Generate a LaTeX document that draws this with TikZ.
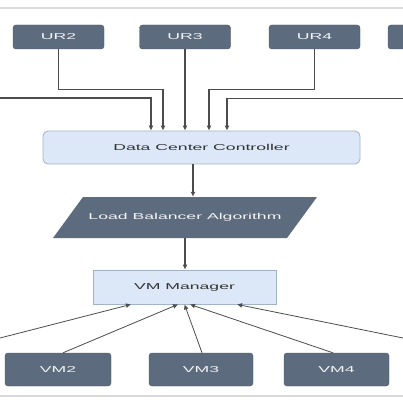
\documentclass[tikz,border=0pt]{standalone}
\usepackage{fontspec}
\setmainfont{Liberation Sans}[FakeStretch=2.05]
\usetikzlibrary{arrows.meta, positioning}

\definecolor{slate}{HTML}{5C6B7D}
\definecolor{slateedge}{HTML}{4A5766}
\definecolor{paleblue}{HTML}{DCE8F8}
\definecolor{paleedge}{HTML}{A3B3C7}
\definecolor{rulegray}{HTML}{D9D9D9}

\begin{document}
\begin{tikzpicture}[x=1pt, y=-1pt,
  font=\fontsize{8.6}{10}\selectfont,
  darkbox/.style={draw=slateedge, fill=slate, text=white!92!slate, rounded corners=3pt, inner sep=0pt},
  lightbox/.style={draw=paleedge, fill=paleblue, text=black!80, inner sep=0pt, line width=0.8pt},
  conn/.style={draw=black!70, line width=1.2pt, -{Latex[length=5pt, width=5pt]}}]

\useasboundingbox (0,0) rectangle (403,403);
\clip (0,0) rectangle (403,403);

% page rules
\draw[rulegray, line width=2.5pt] (0,8) -- (403,8);
\draw[rulegray, line width=2.5pt] (0,396) -- (403,396);

% user requests
\node[darkbox, minimum width=91pt, minimum height=24pt] (ur2) at (58.5,37) {UR2};
\node[darkbox, minimum width=91pt, minimum height=24pt] (ur3) at (185,37) {UR3};
\node[darkbox, minimum width=91pt, minimum height=24pt] (ur4) at (314.5,37) {UR4};
\node[darkbox, minimum width=91pt, minimum height=24pt] (ur5) at (433.5,37) {};
\coordinate (ur1in) at (0,98);

\node[lightbox, rounded corners=5pt, minimum width=317pt, minimum height=33pt] (dcc) at (201.5,147.5) {Data Center Controller};

% load balancer (slanted box)
\fill[slate] (83,197) -- (317,197) -- (287,238) -- (53,238) -- cycle;
\node[text=white!92!slate, inner sep=0pt, minimum width=234pt, minimum height=41pt] (lba) at (185,217.5) {Load Balancer Algorithm};

\node[lightbox, minimum width=183pt, minimum height=34pt] (vmm) at (184.5,287) {VM Manager};

% virtual machines
\node[darkbox, minimum width=106pt, minimum height=33pt] (vm2) at (58,369.5) {VM2};
\node[darkbox, minimum width=104pt, minimum height=33pt] (vm3) at (201,369.5) {VM3};
\node[darkbox, minimum width=105pt, minimum height=33pt] (vm4) at (336.5,369.5) {VM4};
\coordinate (vm1in) at (0,338);
\coordinate (vm5in) at (403,338);

\draw[conn] (ur1in) -| ([xshift=-50.5pt]dcc.north);
\draw[conn] (ur2.south) -- ++(0,40) -| ([xshift=-38.5pt]dcc.north);
\draw[conn] (ur3.south) -- (ur3.south |- dcc.north);
\draw[conn] (ur4.south) -- ++(0,40) -| ([xshift=7.5pt]dcc.north);
\draw[conn] (ur5.south) -- ++(0,49) -| ([xshift=25.5pt]dcc.north);

\draw[conn] ([xshift=-8.5pt]dcc.south) -- ([xshift=-8.5pt]dcc.south |- lba.north);
\draw[conn] (lba.south) -- (lba.south |- vmm.north);

\draw[conn, line width=0.8pt] (vm1in) -- ([xshift=-53.5pt]vmm.south);
\draw[conn, line width=0.8pt] ([xshift=5pt]vm2.north) -- ([xshift=-6.5pt]vmm.south);
\draw[conn, line width=0.8pt] ([xshift=1pt]vm3.north) -- (vmm.south);
\draw[conn, line width=0.8pt] ([xshift=-3.5pt]vm4.north) -- ([xshift=5.5pt]vmm.south);
\draw[conn, line width=0.8pt] (vm5in) -- ([xshift=52.5pt]vmm.south);

\end{tikzpicture}
\end{document}
